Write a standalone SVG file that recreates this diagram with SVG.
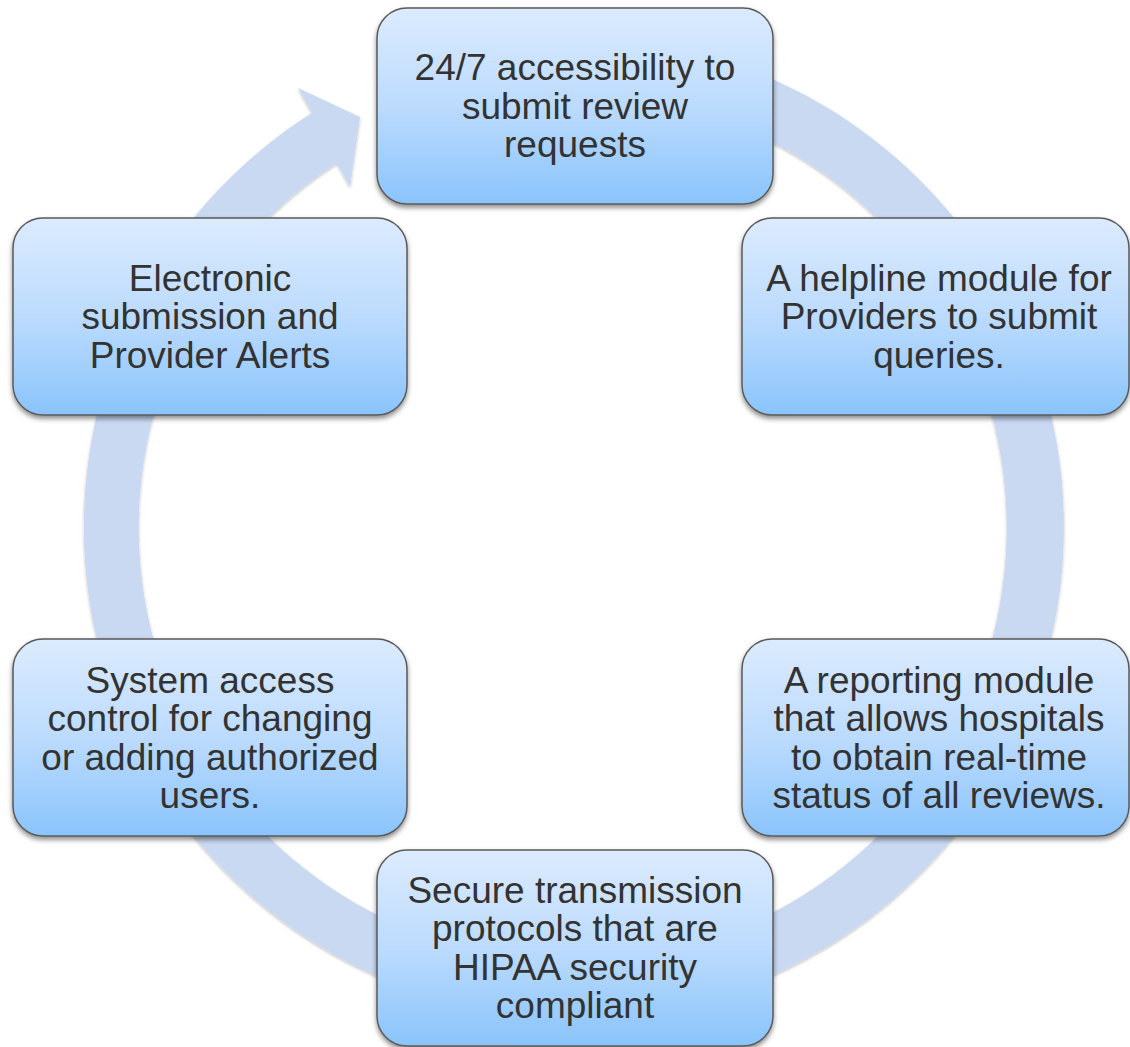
<svg xmlns="http://www.w3.org/2000/svg" width="1130" height="1047" viewBox="0 0 1130 1047">
<defs>
<linearGradient id="ng" x1="0" y1="0" x2="0" y2="1">
<stop offset="0" stop-color="#DCEBFE"/>
<stop offset="0.5" stop-color="#BCDBFD"/>
<stop offset="1" stop-color="#8AC4FB"/>
</linearGradient>
<filter id="sh" x="-10%" y="-10%" width="120%" height="125%">
<feDropShadow dx="0" dy="3" stdDeviation="2.5" flood-color="#000" flood-opacity="0.45"/>
</filter>
<filter id="rs" x="-10%" y="-10%" width="120%" height="120%">
<feDropShadow dx="0" dy="1.5" stdDeviation="1.5" flood-color="#000" flood-opacity="0.25"/>
</filter>
</defs>
<style>
.node rect{fill:url(#ng);stroke:#5a5a5a;stroke-width:1.5;filter:url(#sh)}
.node text{font-family:"Liberation Sans",Arial,sans-serif;font-size:37px;fill:#333;text-anchor:middle}
</style>
<rect width="1130" height="1047" fill="#fff"/>
<g id="connectors">
<path d="M489.9,44.4 A490,490 0 1 1 312,113 L298,88 L360,117 L350,187 L337,163 A434,434 0 1 0 499.6,99.6 Z" fill="#C9D9F2" filter="url(#rs)"/>
</g>
<g id="n1" class="node">
<rect x="377" y="8" width="396" height="196" rx="30"/>
<text x="575" y="80">24/7 accessibility to</text>
<text x="575" y="118.5">submit review</text>
<text x="575" y="157">requests</text>
</g>
<g id="n2" class="node">
<rect x="742" y="218" width="387" height="197" rx="30"/>
<text x="939" y="290.5">A helpline module for</text>
<text x="939" y="329">Providers to submit</text>
<text x="939" y="367.5">queries.</text>
</g>
<g id="n3" class="node">
<rect x="742" y="639" width="387" height="197" rx="30"/>
<text x="939" y="692.5">A reporting module</text>
<text x="939" y="731">that allows hospitals</text>
<text x="939" y="769.5">to obtain real-time</text>
<text x="939" y="808">status of all reviews.</text>
</g>
<g id="n4" class="node">
<rect x="377" y="850" width="396" height="196" rx="30"/>
<text x="575" y="902.5">Secure transmission</text>
<text x="575" y="941">protocols that are</text>
<text x="575" y="979.5">HIPAA security</text>
<text x="575" y="1018">compliant</text>
</g>
<g id="n5" class="node">
<rect x="13" y="639" width="394" height="197" rx="30"/>
<text x="210" y="692.5">System access</text>
<text x="210" y="731">control for changing</text>
<text x="210" y="769.5">or adding authorized</text>
<text x="210" y="808">users.</text>
</g>
<g id="n6" class="node">
<rect x="13" y="218" width="394" height="197" rx="30"/>
<text x="210" y="290.5">Electronic</text>
<text x="210" y="329">submission and</text>
<text x="210" y="367.5">Provider Alerts</text>
</g>
</svg>
